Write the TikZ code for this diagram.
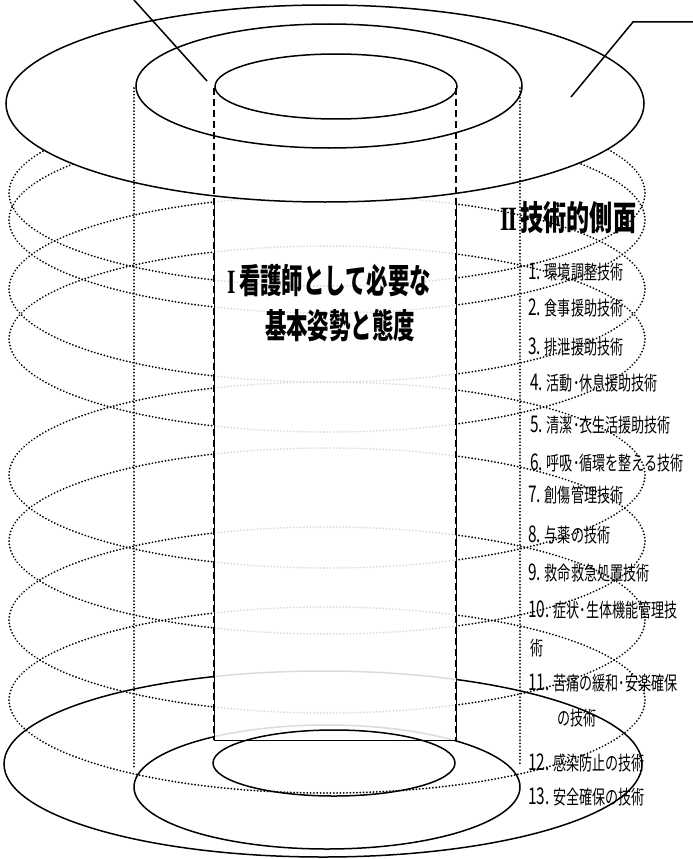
\documentclass[tikz,border=0pt]{standalone}
\usepackage{fontspec}
\newfontfamily\jp{Noto Sans CJK JP}
\newfontfamily\romnum{Liberation Serif}
\newcommand\lnum[1]{{\fontsize{23}{23}\selectfont #1}}
\begin{document}
\begin{tikzpicture}[x=1pt,y=-1pt,
  solidline/.style={line width=1.5pt},
  thinline/.style={line width=1pt},
  dotline/.style={line width=2pt, dash pattern=on 0.01pt off 3.3pt, line cap=round},
  dashline/.style={line width=1.5pt, dash pattern=on 7pt off 4pt},
  bigtext/.style={font=\jp\bfseries\fontsize{34}{34}\selectfont, xscale=0.63, inner sep=0pt, anchor=west},
  titletext/.style={font=\jp\bfseries\fontsize{34}{34}\selectfont, xscale=0.68, inner sep=0pt, anchor=west},
  listtext/.style={font=\jp\fontsize{19.5}{19.5}\selectfont, xscale=0.67, inner sep=0pt, anchor=west},
]
\useasboundingbox (0,0) rectangle (693,859);
\fill[white] (0,0) rectangle (693,859);

% helix loops (dotted)
\foreach \yc in {193,220,289,339,475,541,620,700}
  \draw[dotline] (327,\yc) ellipse[x radius=318pt, y radius=93pt];

% bottom outer and middle ellipses
\draw[solidline] (323,764) ellipse[x radius=319pt, y radius=93pt];
\draw[solidline] (327,787) ellipse[x radius=193pt, y radius=62pt];

% inner cylinder body
\fill[white, fill opacity=0.86] (214,150) rectangle (456,740);
\draw[thinline] (214,200) -- (214,740) -- (456,740) -- (456,200);

% bottom inner ellipse
\draw[solidline] (334,763) ellipse[x radius=121pt, y radius=33pt];

% top ellipses
\draw[solidline, fill=white] (325,103.5) ellipse[x radius=319pt, y radius=98.5pt];
\draw[solidline] (329,86) ellipse[x radius=193pt, y radius=62pt];
\draw[solidline] (336,86.5) ellipse[x radius=121pt, y radius=32.5pt];

% middle cylinder (dotted verticals)
\draw[dotline] (134,88) -- (134,768);
\draw[dotline] (520,88) -- (520,765);

% inner cylinder (dashed verticals)
\draw[dashline] (214,88) -- (214,740);
\draw[dashline] (456,88) -- (456,740);

% pointer lines
\coordinate (pla) at (134,0);
\coordinate (plb) at (207,81);
\draw[solidline] (pla) -- (plb);
\coordinate (pra) at (693,22);
\coordinate (prb) at (633,22);
\coordinate (prc) at (571,97);
\draw[solidline] (pra) -- (prb) -- (prc);

% texts
\node[bigtext] (t1) at (227,281) {{\romnum\bfseries I}\,看護師として必要な};
\node[bigtext] (t2) at (265,326) {基本姿勢と態度};
\node[titletext] (t3) at (500,218) {{\romnum\bfseries I\kern-0.06em I}\,技術的側面};
\node[listtext] (l1) at (528,272) {\lnum{1.} 環境調整技術};
\node[listtext] (l2) at (528,308) {\lnum{2.} 食事援助技術};
\node[listtext] (l3) at (528,347) {\lnum{3.} 排泄援助技術};
\node[listtext] (l4) at (530,383) {\lnum{4.} 活動･休息援助技術};
\node[listtext] (l5) at (530,425) {\lnum{5.} 清潔･衣生活援助技術};
\node[listtext] (l6) at (530,463) {\lnum{6.} 呼吸･循環を整える技術};
\node[listtext] (l7) at (528,495) {\lnum{7.} 創傷管理技術};
\node[listtext] (l8) at (528,535) {\lnum{8.} 与薬の技術};
\node[listtext] (l9) at (528,573) {\lnum{9.} 救命救急処置技術};
\node[listtext] (l10) at (528,610) {\lnum{10.} 症状･生体機能管理技};
\node[listtext] (l10b) at (530,648) {術};
\node[listtext] (l11) at (528,683) {\lnum{11.} 苦痛の緩和･安楽確保};
\node[listtext] (l11b) at (557,718) {の技術};
\node[listtext] (l12) at (528,763) {\lnum{12.} 感染防止の技術};
\node[listtext] (l13) at (528,797) {\lnum{13.} 安全確保の技術};
\end{tikzpicture}
\end{document}
